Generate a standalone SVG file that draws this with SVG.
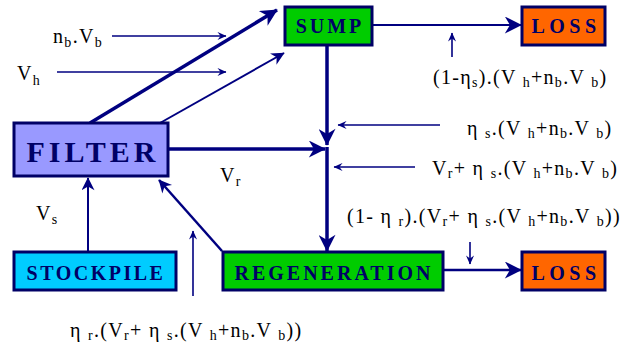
<svg xmlns="http://www.w3.org/2000/svg" width="629" height="349" viewBox="0 0 629 349">
<defs>
<style>
.box{stroke:#000066;stroke-width:3}
.lbl{font-family:"Liberation Serif",serif;font-weight:bold;fill:#000066;font-size:20px}
.f{font-family:"Liberation Serif",serif;font-size:20px;letter-spacing:1.3px;fill:#000}
.s{font-size:14px}
.thick{stroke:#000080;stroke-width:3.5;fill:none}
.thin{stroke:#000080;stroke-width:1.6;fill:none}
</style>
<marker id="big" viewBox="0 0 10 10" refX="9.5" refY="5" markerWidth="19" markerHeight="17" orient="auto" markerUnits="userSpaceOnUse">
<path d="M0,0 L10,5 L0,10 L3,5 z" fill="#000080"/>
</marker>
<marker id="mid" viewBox="0 0 10 10" refX="9.5" refY="5" markerWidth="15" markerHeight="13" orient="auto" markerUnits="userSpaceOnUse">
<path d="M0,0 L10,5 L0,10 L3,5 z" fill="#000080"/>
</marker>
<marker id="sm" viewBox="0 0 10 10" refX="9.5" refY="5" markerWidth="11" markerHeight="9" orient="auto" markerUnits="userSpaceOnUse">
<path d="M0,0.5 L10,5 L0,9.5 L3.5,5 z" fill="#000080"/>
</marker>
</defs>
<rect width="629" height="349" fill="#fff"/>
<g id="connectors">
<line class="thick" x1="90" y1="123" x2="277" y2="10" marker-end="url(#big)"/>
<line class="thin" x1="160" y1="123" x2="284" y2="53" marker-end="url(#mid)" style="stroke-width:2"/>
<line class="thin" x1="112" y1="36" x2="226" y2="36" marker-end="url(#sm)"/>
<line class="thin" x1="57" y1="72" x2="226" y2="72" marker-end="url(#sm)"/>
<line class="thin" x1="372" y1="25" x2="521" y2="25" marker-end="url(#big)" style="stroke-width:2"/>
<line class="thin" x1="452" y1="57" x2="452" y2="33" marker-end="url(#sm)"/>
<line class="thick" x1="327" y1="46" x2="327" y2="145" marker-end="url(#big)"/>
<line class="thick" x1="169" y1="149" x2="325" y2="149" marker-end="url(#big)"/>
<line class="thick" x1="327" y1="147" x2="327" y2="251" marker-end="url(#big)"/>
<line class="thin" x1="440" y1="125" x2="338" y2="125" marker-end="url(#sm)"/>
<line class="thin" x1="415" y1="167" x2="334" y2="167" marker-end="url(#sm)"/>
<line class="thin" x1="444" y1="270" x2="521" y2="270" marker-end="url(#big)" style="stroke-width:2.5"/>
<line class="thin" x1="470" y1="242" x2="470" y2="264" marker-end="url(#sm)"/>
<line class="thin" x1="88" y1="251" x2="88" y2="178" marker-end="url(#mid)" style="stroke-width:2"/>
<line class="thin" x1="222" y1="251" x2="159" y2="180" marker-end="url(#mid)" style="stroke-width:2.5"/>
<line class="thin" x1="193" y1="296" x2="193" y2="231" marker-end="url(#sm)"/>
</g>
<g id="sump">
<rect class="box" x="285" y="7" width="87" height="38" fill="#00cc00"/>
<text class="lbl" x="330" y="33" text-anchor="middle" letter-spacing="3">SUMP</text>
</g>
<g id="loss1">
<rect class="box" x="522" y="7" width="83" height="38" fill="#ff6600"/>
<text class="lbl" x="566" y="33" text-anchor="middle" letter-spacing="4.5">LOSS</text>
</g>
<g id="filter">
<rect class="box" x="14" y="123" width="154" height="53" fill="#9999ff"/>
<text class="lbl" x="93" y="162" style="font-size:30px" text-anchor="middle" letter-spacing="4">FILTER</text>
</g>
<g id="stockpile">
<rect class="box" x="14" y="252" width="162" height="38" fill="#00ccff"/>
<text class="lbl" x="96" y="280" text-anchor="middle" letter-spacing="2.5">STOCKPILE</text>
</g>
<g id="regeneration">
<rect class="box" x="223" y="252" width="220" height="38" fill="#00cc00"/>
<text class="lbl" x="334" y="280" text-anchor="middle" letter-spacing="3">REGENERATION</text>
</g>
<g id="loss2">
<rect class="box" x="522" y="252" width="83" height="38" fill="#ff6600"/>
<text class="lbl" x="566" y="280" text-anchor="middle" letter-spacing="4.5">LOSS</text>
</g>
<g id="labels">
<text class="f" x="53" y="43">n<tspan class="s" dy="4">b</tspan><tspan dy="-4">.V</tspan><tspan class="s" dy="4">b</tspan></text>
<text class="f" x="17" y="80">V<tspan class="s" dy="5">h</tspan></text>
<text class="f" x="433" y="84">(1-η<tspan class="s" dy="3">s</tspan><tspan dy="-3">).(V </tspan><tspan class="s" dy="3">h</tspan><tspan dy="-3">+n</tspan><tspan class="s" dy="3">b</tspan><tspan dy="-3">.V </tspan><tspan class="s" dy="3">b</tspan><tspan dy="-3">)</tspan></text>
<text class="f" x="467" y="135">η <tspan class="s" dy="3">s</tspan><tspan dy="-3">.(V </tspan><tspan class="s" dy="3">h</tspan><tspan dy="-3">+n</tspan><tspan class="s" dy="3">b</tspan><tspan dy="-3">.V </tspan><tspan class="s" dy="3">b</tspan><tspan dy="-3">)</tspan></text>
<text class="f" x="432" y="175">V<tspan class="s" dy="3">r</tspan><tspan dy="-3">+ η </tspan><tspan class="s" dy="3">s</tspan><tspan dy="-3">.(V </tspan><tspan class="s" dy="3">h</tspan><tspan dy="-3">+n</tspan><tspan class="s" dy="3">b</tspan><tspan dy="-3">.V </tspan><tspan class="s" dy="3">b</tspan><tspan dy="-3">)</tspan></text>
<text class="f" x="347" y="223">(1- η <tspan class="s" dy="3">r</tspan><tspan dy="-3">).(V</tspan><tspan class="s" dy="3">r</tspan><tspan dy="-3">+ η </tspan><tspan class="s" dy="3">s</tspan><tspan dy="-3">.(V </tspan><tspan class="s" dy="3">h</tspan><tspan dy="-3">+n</tspan><tspan class="s" dy="3">b</tspan><tspan dy="-3">.V </tspan><tspan class="s" dy="3">b</tspan><tspan dy="-3">))</tspan></text>
<text class="f" x="220" y="182">V<tspan class="s" dy="4">r</tspan></text>
<text class="f" x="36" y="220">V<tspan class="s" dy="4">s</tspan></text>
<text class="f" x="70" y="337">η <tspan class="s" dy="3">r</tspan><tspan dy="-3">.(V</tspan><tspan class="s" dy="3">r</tspan><tspan dy="-3">+ η </tspan><tspan class="s" dy="3">s</tspan><tspan dy="-3">.(V </tspan><tspan class="s" dy="3">h</tspan><tspan dy="-3">+n</tspan><tspan class="s" dy="3">b</tspan><tspan dy="-3">.V </tspan><tspan class="s" dy="3">b</tspan><tspan dy="-3">))</tspan></text>
</g>
</svg>
